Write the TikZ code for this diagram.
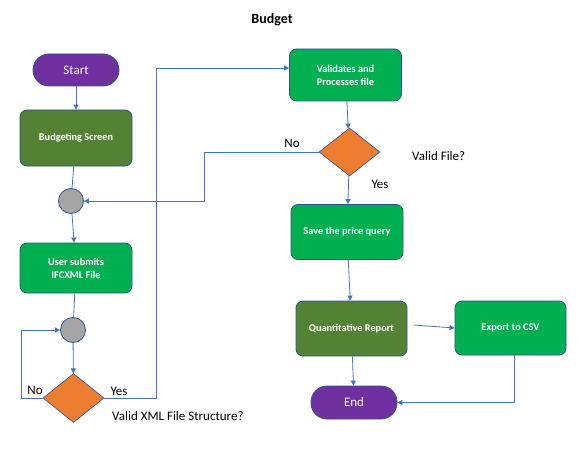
\documentclass[tikz,border=0pt]{standalone}
\usepackage{fontspec}
\setmainfont{Carlito}
\usetikzlibrary{shapes.geometric,arrows.meta}
\definecolor{cpurple}{HTML}{7030A0}
\definecolor{cdgreen}{HTML}{548235}
\definecolor{cgreen}{HTML}{00B050}
\definecolor{corange}{HTML}{ED7D31}
\definecolor{cgray}{HTML}{A5A5A5}
\definecolor{cborder}{HTML}{2F528F}
\definecolor{cline}{HTML}{4472C4}
\tikzset{
  boxbase/.style={draw=cborder, line width=0.8pt, text=white, align=center, inner sep=0pt},
  stadium/.style={boxbase, fill=cpurple, rounded corners=16pt, minimum width=86pt, minimum height=32pt, font=\fontsize{13}{15}\selectfont},
  procbox/.style={boxbase, rounded corners=7pt, minimum width=112pt, minimum height=54pt, font=\bfseries\fontsize{10.3}{13}\selectfont},
  darkbox/.style={procbox, fill=cdgreen},
  greenbox/.style={procbox, fill=cgreen},
  junction/.style={circle, draw=cborder, line width=0.8pt, fill=cgray, minimum size=25pt, inner sep=0pt},
  decision/.style={diamond, draw=cborder, line width=0.6pt, fill=corange, minimum width=61pt, minimum height=49pt, inner sep=0pt},
  arr/.style={draw=cline, line width=0.8pt, -{Triangle[width=5pt,length=5pt]}},
  plain/.style={draw=cline, line width=0.8pt},
  lbl/.style={font=\fontsize{13}{15}\selectfont, text=black, inner sep=0pt}
}
\begin{document}
\begin{tikzpicture}[x=1pt,y=-1pt]
\useasboundingbox (0,0) rectangle (580,449);
\node[font=\bfseries\fontsize{14}{16}\selectfont] (title) at (272,20) {Budget};
% left column
\node[stadium] (start) at (76,70) {Start};
\node[darkbox, minimum height=56pt] (budget) at (76,138) {Budgeting Screen};
\node[junction] (c1) at (71,201) {};
\node[greenbox, minimum height=50pt] (user) at (76,268) {User submits\\IFCXML File};
\node[junction] (c2) at (73,330) {};
\node[decision] (d1) at (73.5,398) {};
% right column
\node[greenbox, minimum height=52pt] (val) at (345.5,75) {Validates and\\Processes file};
\node[decision, minimum height=48pt] (d2) at (349.5,152) {};
\node[greenbox, minimum height=55pt] (save) at (347,232) {Save the price query};
\node[darkbox, minimum width=111pt, minimum height=55pt] (quant) at (351.5,328.5) {Quantitative Report};
\node[greenbox, minimum width=111pt] (export) at (510.5,328) {Export to CSV};
\node[stadium, minimum height=33pt] (end) at (354,402.5) {End};
% labels
\node[lbl] (lno1) at (35,390) {No};
\node[lbl] (lyes1) at (119,391) {Yes};
\node[lbl, anchor=west] (lq1) at (112,416) {Valid XML File Structure?};
\node[lbl] (lno2) at (292,143) {No};
\node[lbl, anchor=west] (lq2) at (412,156) {Valid File?};
\node[lbl] (lyes2) at (380,184) {Yes};
% coordinates
\coordinate (noL) at (21,398);
\coordinate (yesR) at (156,398);
\coordinate (no2L) at (204,152);
\coordinate (qout) at (414,325);
% connectors
\draw[arr] (start) -- (budget);
\draw[plain] (budget) -- (c1);
\draw[arr] (c1) -- (user);
\draw[plain] (user) -- (c2);
\draw[arr] (c2) -- (d1);
\draw[arr] (d1.west) -- (noL) |- (c2.west);
\draw[arr] (d1.east) -- (yesR) |- ([yshift=7pt]val.west);
\draw[arr] (val) -- (d2);
\draw[arr] (d2.west) -- (no2L) |- (c1.east);
\draw[arr] (d2) -- (save);
\draw[arr] (save) -- (quant);
\draw[arr] (qout) -- (export.west);
\draw[arr] (quant) -- (end);
\draw[arr] ([xshift=3.5pt]export.south) |- (end.east);
\end{tikzpicture}
\end{document}
